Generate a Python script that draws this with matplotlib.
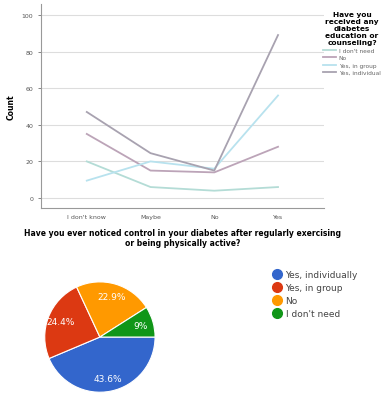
import matplotlib.pyplot as plt
from matplotlib.lines import Line2D

# line chart data
answers = ["I don't know", "Maybe", "No", "Yes"]
series_names = ["I don't need", "No", "Yes, in group", "Yes, individual"]
dont_need = [20, 6, 4, 6]
no_edu = [35, 15, 14, 28]
yes_group = [9.5, 20, 16, 56]
yes_indiv = [47, 24.5, 15, 89]
line_colors = ["#b4dcd6", "#bca4b8", "#b8e2ee", "#a8a2b0"]

# pie data
pie_labels = ["Yes, individually", "Yes, in group", "No", "I don't need"]
pie_values = [43.6, 24.4, 22.9, 9.0]
pie_colors = ["#3366cc", "#dc3912", "#ff9900", "#109618"]

fig = plt.figure(figsize=(3.82, 4.10), dpi=100)

ax = fig.add_axes([0.107, 0.490, 0.741, 0.498])
x = list(range(len(answers)))
for vals, name, col in zip([dont_need, no_edu, yes_group, yes_indiv],
                           series_names, line_colors):
    ax.plot(x, vals, color=col, lw=1.3, label=name)

ax.set_xlim(-0.72, 3.72)
ax.set_ylim(-5.5, 106)
ax.set_yticks([0, 20, 40, 60, 80, 100])
ax.set_xticks(x)
ax.set_xticklabels(answers)
ax.tick_params(axis="both", labelsize=4.5, colors="#555555", length=2, width=0.5)
ax.tick_params(axis="x", length=0, pad=4)
ax.grid(axis="y", color="#dddddd", lw=0.8)
ax.set_axisbelow(True)
for s in ["top", "right"]:
    ax.spines[s].set_visible(False)
for s in ["left", "bottom"]:
    ax.spines[s].set_color("#999999")
    ax.spines[s].set_linewidth(0.8)
ax.set_ylabel("Count", fontsize=5.5, fontweight="bold", labelpad=4)
ax.set_xlabel("Have you ever noticed control in your diabetes after regularly exercising\n"
              "or being physically active?", fontsize=5.5, fontweight="bold",
              labelpad=7, linespacing=1.1)

leg = ax.legend(loc="upper left", bbox_to_anchor=(0.99, 0.975), frameon=False,
                fontsize=4.2, handlelength=2.2, handletextpad=0.4,
                labelspacing=0.4, borderaxespad=0,
                title="Have you\nreceived any\ndiabetes\neducation or\ncounseling?",
                title_fontproperties={"size": 5.3, "weight": "bold"})
leg.get_title().set_multialignment("center")
leg.get_title().set_linespacing(1.2)
for t in leg.get_texts():
    t.set_color("#666666")

# pie chart
pax = fig.add_axes([0.081, 0.007, 0.361, 0.337])
wedges, texts, autotexts = pax.pie(
    pie_values, colors=pie_colors, startangle=0, counterclock=False,
    autopct=lambda p: ("%.1f%%" % p).replace(".0%", "%"), pctdistance=0.76,
    wedgeprops={"edgecolor": "white", "linewidth": 0.8},
    textprops={"color": "white", "fontsize": 6.5})
pax.set_aspect("equal")

handles = [Line2D([], [], ls="none", marker="o", markersize=7,
                  markerfacecolor=c, markeredgecolor=c) for c in pie_colors]
pleg = fig.legend(handles, pie_labels, loc="upper left",
                  bbox_to_anchor=(0.705, 0.348), frameon=False, fontsize=6.5,
                  handlelength=1.0, handletextpad=0.4, labelspacing=0.45,
                  borderaxespad=0)
for t in pleg.get_texts():
    t.set_color("#444444")

fig.savefig("out.png", dpi=100)
